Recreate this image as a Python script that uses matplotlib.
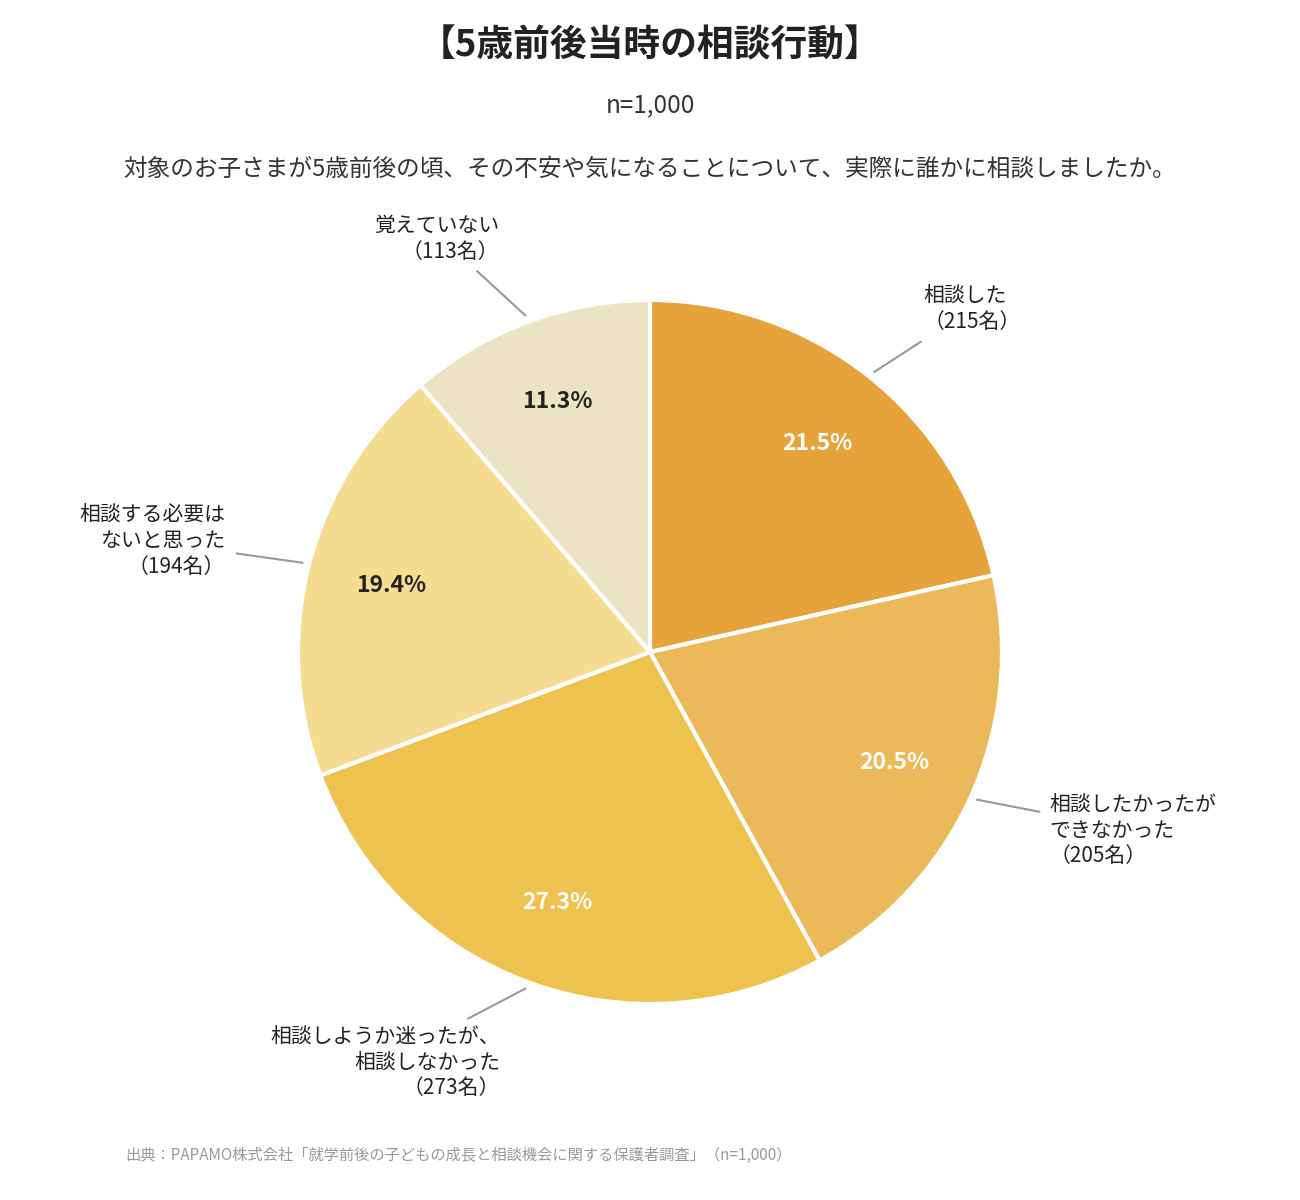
import matplotlib
matplotlib.use("Agg")
import matplotlib.pyplot as plt
import numpy as np

plt.rcParams["font.family"] = ["Noto Sans CJK JP", "DejaVu Sans"]

labels = ["相談した\n（215名）",
          "相談したかったが\nできなかった\n（205名）",
          "相談しようか迷ったが、\n相談しなかった\n（273名）",
          "相談する必要は\nないと思った\n（194名）",
          "覚えていない\n（113名）"]
counts = [215, 205, 273, 194, 113]
shares = [21.5, 20.5, 27.3, 19.4, 11.3]
colors = ["#E6A33C", "#EBB85A", "#EEC24E", "#F5DC90", "#ECE2C4"]
pct_colors = ["white", "white", "white", "#222222", "#222222"]

W, H = 1300, 1200
fig = plt.figure(figsize=(13, 12), dpi=100)

cx, cy, r = 650, 652, 352
ax = fig.add_axes([(cx - r) / W, (H - cy - r) / H, 2 * r / W, 2 * r / H])
wedges, _ = ax.pie(counts, colors=colors, startangle=90, counterclock=False,
                   radius=1, wedgeprops=dict(edgecolor="white", linewidth=3))
ax.set_xlim(-1, 1)
ax.set_ylim(-1, 1)
ax.set_aspect("equal")
ax.axis("off")

# leader line direction from the rim, and text offset from the line end
leaders = [(0.131, 0.085), (0.176, -0.034), (-0.162, -0.085),
           (-0.185, 0.026), (-0.136, 0.125)]
text_off = [(0.008, 0.094, "left"), (0.028, -0.054, "left"),
            (0.091, -0.125, "right"), (-0.034, 0.036, "right"),
            (0.062, 0.093, "right")]

for i, w in enumerate(wedges):
    ang = np.deg2rad((w.theta1 + w.theta2) / 2)
    c, s = np.cos(ang), np.sin(ang)
    ax.text(0.76 * c, 0.76 * s, f"{shares[i]}%", ha="center", va="center",
            fontsize=16.5, fontweight="bold", color=pct_colors[i])
    x0, y0 = 1.02 * c, 1.02 * s
    x1, y1 = x0 + leaders[i][0], y0 + leaders[i][1]
    ax.plot([x0, x1], [y0, y1], color="#999999", lw=1.5, clip_on=False)
    dx, dy, ha = text_off[i]
    ax.text(x1 + dx, y1 + dy, labels[i], ha=ha, va="center",
            multialignment=ha, fontsize=15, color="#222222",
            linespacing=1.22, clip_on=False)

fig.text(0.5, 1 - 46 / H, "【5歳前後当時の相談行動】", ha="center", va="center",
         fontsize=26.5, fontweight="bold", color="#222222")
fig.text(0.5, 1 - 105 / H, "n=1,000", ha="center", va="center",
         fontsize=17.5, color="#333333")
fig.text(0.5, 1 - 169 / H,
         "対象のお子さまが5歳前後の頃、その不安や気になることについて、実際に誰かに相談しましたか。",
         ha="center", va="center", fontsize=17, color="#333333")
fig.text(125 / W, 1 - 1155 / H,
         "出典：PAPAMO株式会社「就学前後の子どもの成長と相談機会に関する保護者調査」（n=1,000）",
         ha="left", va="center", fontsize=11, color="#999999")

fig.savefig("out.png", dpi=100, facecolor="white")
